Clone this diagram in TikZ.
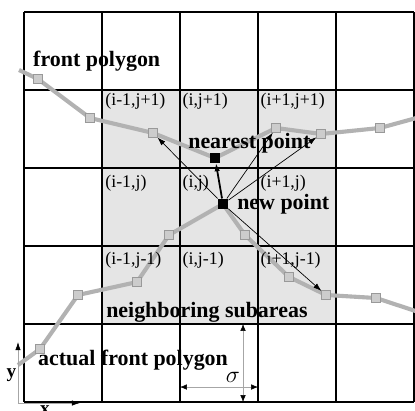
\documentclass[tikz,border=0pt]{standalone}
\usepackage{fontspec}
\setmainfont{Liberation Serif}
\usetikzlibrary{arrows.meta,backgrounds}

\begin{document}
\begin{tikzpicture}[
  x=2cm, y=2cm,
  lbl/.style={font=\fontsize{16}{18}\selectfont\bfseries, inner sep=0pt, anchor=base west},
  cell/.style={font=\fontsize{13}{15}\selectfont, inner sep=0pt, anchor=base west},
  vtx/.style={rectangle, draw=gray!80, fill=gray!40, line width=0.4pt,
              minimum size=0.22cm, inner sep=0pt},
  blk/.style={rectangle, fill=black, minimum size=0.24cm, inner sep=0pt},
  front/.style={gray!60, line width=3pt},
  arr/.style={-{Latex[length=6pt,width=4pt]}, line width=0.5pt},
  axis/.style={-{Latex[length=6pt,width=4pt,color=black]}, gray!70, line width=0.5pt},
  dim/.style={{Latex[length=5pt,width=4pt,color=black]}-{Latex[length=5pt,width=4pt,color=black]},
              gray!70, line width=0.4pt},
]
\useasboundingbox (-0.3077,-0.1026) rectangle (5.0128,5.1538);

%% ---- front polygon ----
\coordinate (fa) at (-0.064, 4.256);
\node[vtx] (f1) at (0.179, 4.141) {};
\node[vtx] (f2) at (0.846, 3.641) {};
\node[vtx] (f3) at (1.654, 3.449) {};
\node[blk] (nearpt) at (2.449, 3.128) {};
\node[vtx] (f4) at (3.231, 3.513) {};
\node[vtx] (f5) at (3.808, 3.436) {};
\node[vtx] (f6) at (4.564, 3.513) {};
\coordinate (fb) at (5.10, 3.66);

%% ---- actual front polygon ----
\coordinate (aa) at (-0.077, 0.474);
\node[vtx] (a1) at (0.205, 0.679) {};
\node[vtx] (a2) at (0.692, 1.372) {};
\node[vtx] (a3) at (1.449, 1.538) {};
\node[vtx] (a4) at (1.859, 2.141) {};
\node[blk, minimum size=0.27cm] (newpt) at (2.551, 2.538) {};
\node[vtx] (a5) at (2.833, 2.141) {};
\node[vtx] (a6) at (3.397, 1.603) {};
\node[vtx] (a7) at (3.872, 1.372) {};
\node[vtx] (a8) at (4.513, 1.333) {};
\coordinate (ab) at (5.10, 1.14);

%% ---- grid and polylines ----
\begin{scope}[on background layer]
  \fill[gray!20] (1,1) rectangle (4,4);
  \draw[line width=0.8pt, xstep=2cm, ystep=2cm] (0,0) grid (5,5);
  \draw[line width=1.5pt] (1,1) rectangle (4,4);
  \draw[front] (fa) -- (f1.center) -- (f2.center) -- (f3.center) -- (nearpt.center)
    -- (f4.center) -- (f5.center) -- (f6.center) -- (fb);
  \draw[front] (aa) -- (a1.center) -- (a2.center) -- (a3.center) -- (a4.center)
    -- (newpt.center) -- (a5.center) -- (a6.center) -- (a7.center) -- (a8.center) -- (ab);
\end{scope}

%% ---- cell labels ----
\node[cell] (c11) at (1.04, 3.795) {(i-1,j+1)};
\node[cell] (c21) at (2.03, 3.795) {(i,j+1)};
\node[cell] (c31) at (3.03, 3.795) {(i+1,j+1)};
\node[cell] (c12) at (1.04, 2.756) {(i-1,j)};
\node[cell] (c22) at (2.03, 2.756) {(i,j)};
\node[cell] (c32) at (3.03, 2.756) {(i+1,j)};
\node[cell] (c13) at (1.04, 1.769) {(i-1,j-1)};
\node[cell] (c23) at (2.03, 1.769) {(i,j-1)};
\node[cell] (c33) at (3.03, 1.769) {(i+1,j-1)};

%% ---- arrows ----
\draw[arr] (newpt) -- (f3);
\draw[arr, line width=1.3pt] (newpt) -- (nearpt);
\draw[arr] (newpt) -- (f4);
\draw[arr] (newpt) -- (f5);
\draw[arr] (newpt) -- (a7);

%% ---- labels ----
\node[lbl] (frontlbl) at (0.115, 4.295) {front polygon};
\node[lbl] (nearlbl)  at (2.103, 3.244) {nearest point};
\node[lbl] (newlbl)   at (2.731, 2.462) {new point};
\node[lbl] (neighlbl) at (1.051, 1.077) {neighboring subareas};
\node[lbl] (actlbl)   at (0.179, 0.474) {actual front polygon};

%% ---- axes and sigma ----
\coordinate (orig) at (-0.077, -0.013);
\coordinate (yend) at (-0.077, 0.769);
\coordinate (xend) at (0.718, -0.013);
\draw[axis] (orig) -- (yend);
\draw[axis] (orig) -- (xend);
\node[font=\fontsize{14}{16}\selectfont\bfseries] (ylab) at (-0.160, 0.346) {y};
\node[font=\fontsize{14}{16}\selectfont\bfseries] (xlab) at (0.269, -0.105) {x};

\coordinate (sl) at (2, 0.192);
\coordinate (sr) at (3, 0.192);
\coordinate (st) at (2.808, 1);
\coordinate (sb) at (2.808, 0);
\draw[dim] (sl) -- (sr);
\draw[dim] (st) -- (sb);
\node[font=\fontsize{16}{18}\selectfont] (sigma) at (2.679, 0.318) {$\sigma$};
\end{tikzpicture}
\end{document}
